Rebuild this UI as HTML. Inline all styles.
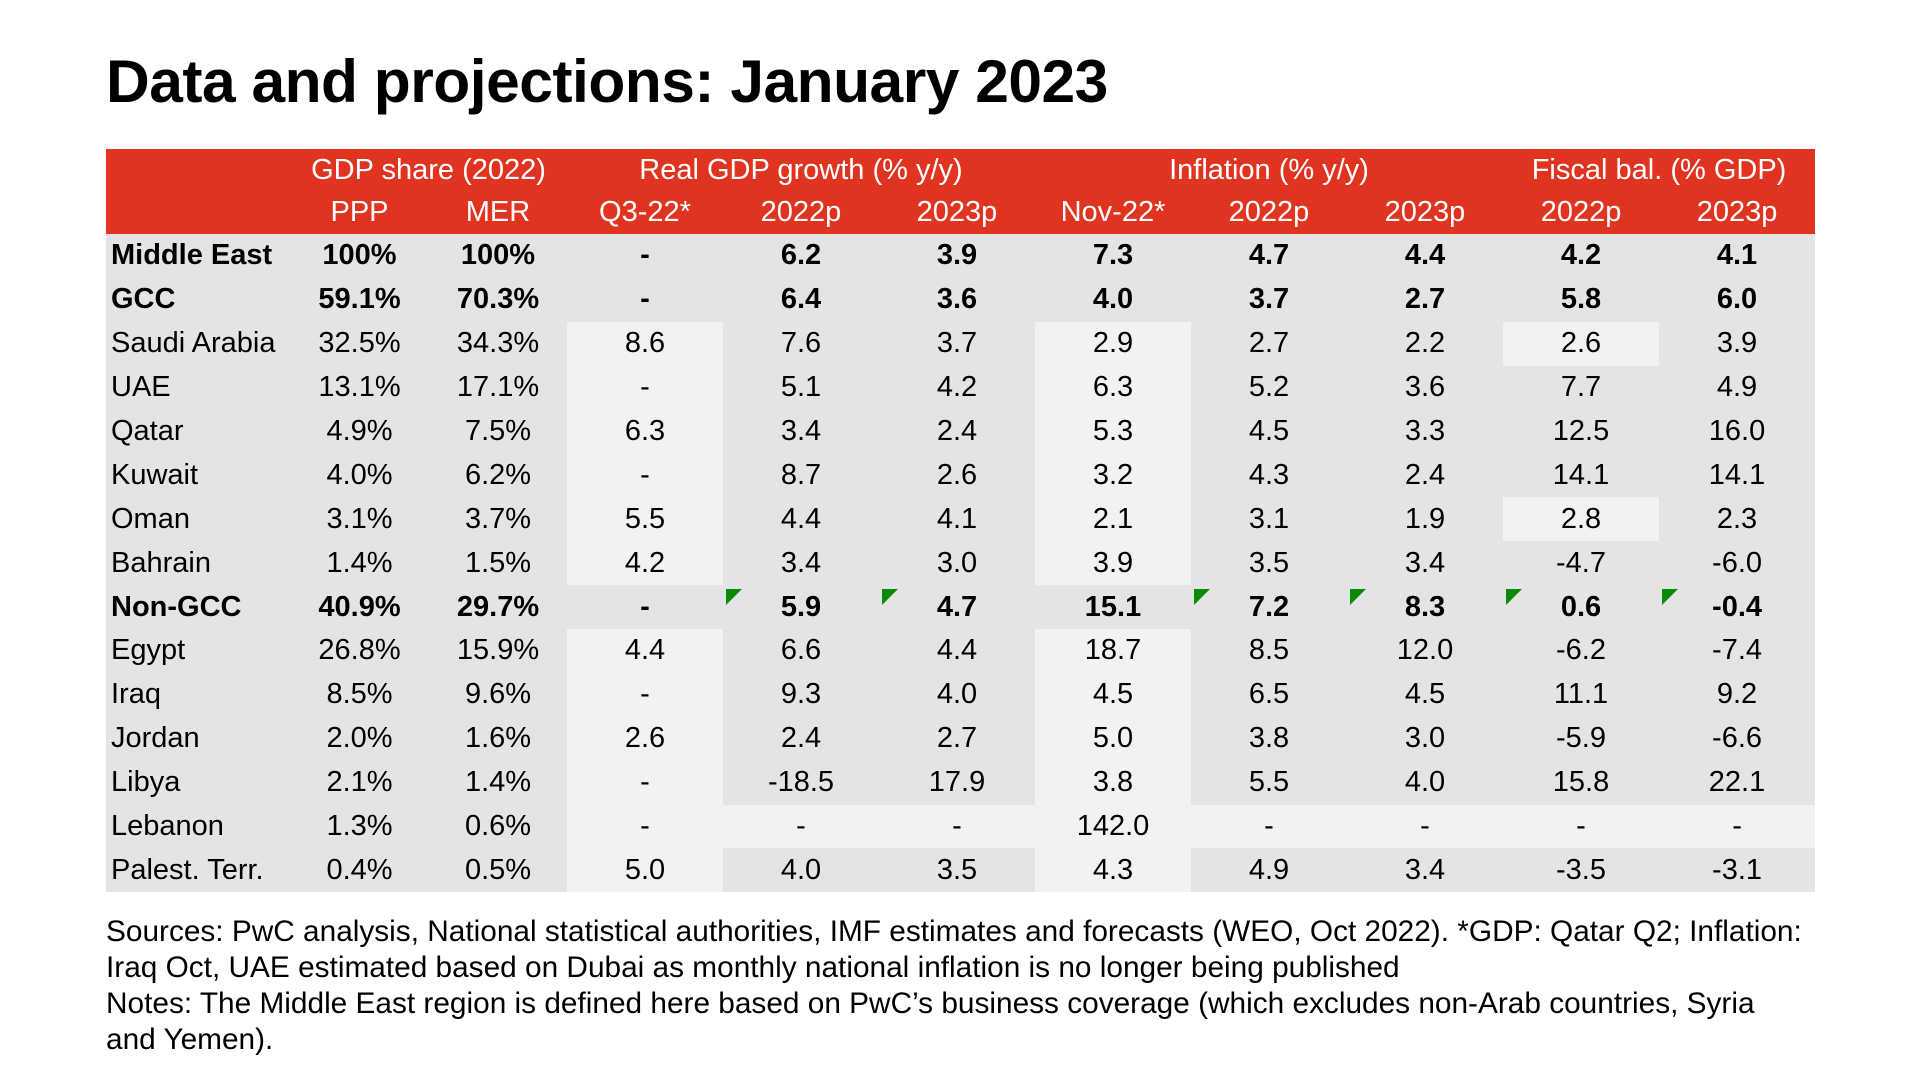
<!DOCTYPE html>
<html><head><meta charset="utf-8"><style>
body{margin:0;width:1920px;height:1080px;background:#fff;font-family:"Liberation Sans",Arial,sans-serif;position:relative;overflow:hidden;color:#000}
.title{position:absolute;left:106px;top:45px;font-size:60.5px;font-weight:bold;line-height:72px;letter-spacing:-0.5px}
table{position:absolute;left:106px;top:149px;border-collapse:collapse;table-layout:fixed;width:1709px;font-size:29px}
td{padding:0;text-align:center;white-space:nowrap;background:#e4e4e4;height:43.9px;position:relative}
thead td{background:#e03421;color:#fff;height:42.5px}
td.l{text-align:left;padding-left:5px}
tr.b td{font-weight:bold}
td.w{background:#f2f2f2}
.tri{position:absolute;left:3px;top:4px;width:0;height:0;border-top:16px solid #0a8a0a;border-right:16px solid transparent}
.notes{position:absolute;left:106px;top:914px;font-size:29.8px;line-height:36px;white-space:nowrap}
</style></head><body>
<div class="title">Data and projections: January 2023</div>
<table>
<colgroup><col style="width:184px"><col style="width:139px"><col style="width:138px"><col style="width:156px"><col style="width:156px"><col style="width:156px"><col style="width:156px"><col style="width:156px"><col style="width:156px"><col style="width:156px"><col style="width:156px"></colgroup>
<thead>
<tr><td></td><td colspan="2">GDP share (2022)</td><td colspan="3">Real GDP growth (% y/y)</td><td colspan="3">Inflation (% y/y)</td><td colspan="2">Fiscal bal. (% GDP)</td></tr>
<tr><td></td><td>PPP</td><td>MER</td><td>Q3-22*</td><td>2022p</td><td>2023p</td><td>Nov-22*</td><td>2022p</td><td>2023p</td><td>2022p</td><td>2023p</td></tr>
</thead>
<tbody>
<tr class="b"><td class="l">Middle East</td><td>100%</td><td>100%</td><td>-</td><td>6.2</td><td>3.9</td><td>7.3</td><td>4.7</td><td>4.4</td><td>4.2</td><td>4.1</td></tr>
<tr class="b"><td class="l">GCC</td><td>59.1%</td><td>70.3%</td><td>-</td><td>6.4</td><td>3.6</td><td>4.0</td><td>3.7</td><td>2.7</td><td>5.8</td><td>6.0</td></tr>
<tr><td class="l">Saudi Arabia</td><td>32.5%</td><td>34.3%</td><td class="w">8.6</td><td>7.6</td><td>3.7</td><td class="w">2.9</td><td>2.7</td><td>2.2</td><td class="w">2.6</td><td>3.9</td></tr>
<tr><td class="l">UAE</td><td>13.1%</td><td>17.1%</td><td class="w">-</td><td>5.1</td><td>4.2</td><td class="w">6.3</td><td>5.2</td><td>3.6</td><td>7.7</td><td>4.9</td></tr>
<tr><td class="l">Qatar</td><td>4.9%</td><td>7.5%</td><td class="w">6.3</td><td>3.4</td><td>2.4</td><td class="w">5.3</td><td>4.5</td><td>3.3</td><td>12.5</td><td>16.0</td></tr>
<tr><td class="l">Kuwait</td><td>4.0%</td><td>6.2%</td><td class="w">-</td><td>8.7</td><td>2.6</td><td class="w">3.2</td><td>4.3</td><td>2.4</td><td>14.1</td><td>14.1</td></tr>
<tr><td class="l">Oman</td><td>3.1%</td><td>3.7%</td><td class="w">5.5</td><td>4.4</td><td>4.1</td><td class="w">2.1</td><td>3.1</td><td>1.9</td><td class="w">2.8</td><td>2.3</td></tr>
<tr><td class="l">Bahrain</td><td>1.4%</td><td>1.5%</td><td class="w">4.2</td><td>3.4</td><td>3.0</td><td class="w">3.9</td><td>3.5</td><td>3.4</td><td>-4.7</td><td>-6.0</td></tr>
<tr class="b"><td class="l">Non-GCC</td><td>40.9%</td><td>29.7%</td><td>-</td><td><span class="tri"></span>5.9</td><td><span class="tri"></span>4.7</td><td>15.1</td><td><span class="tri"></span>7.2</td><td><span class="tri"></span>8.3</td><td><span class="tri"></span>0.6</td><td><span class="tri"></span>-0.4</td></tr>
<tr><td class="l">Egypt</td><td>26.8%</td><td>15.9%</td><td class="w">4.4</td><td>6.6</td><td>4.4</td><td class="w">18.7</td><td>8.5</td><td>12.0</td><td>-6.2</td><td>-7.4</td></tr>
<tr><td class="l">Iraq</td><td>8.5%</td><td>9.6%</td><td class="w">-</td><td>9.3</td><td>4.0</td><td class="w">4.5</td><td>6.5</td><td>4.5</td><td>11.1</td><td>9.2</td></tr>
<tr><td class="l">Jordan</td><td>2.0%</td><td>1.6%</td><td class="w">2.6</td><td>2.4</td><td>2.7</td><td class="w">5.0</td><td>3.8</td><td>3.0</td><td>-5.9</td><td>-6.6</td></tr>
<tr><td class="l">Libya</td><td>2.1%</td><td>1.4%</td><td class="w">-</td><td>-18.5</td><td>17.9</td><td class="w">3.8</td><td>5.5</td><td>4.0</td><td>15.8</td><td>22.1</td></tr>
<tr><td class="l">Lebanon</td><td>1.3%</td><td>0.6%</td><td class="w">-</td><td class="w">-</td><td class="w">-</td><td class="w">142.0</td><td class="w">-</td><td class="w">-</td><td class="w">-</td><td class="w">-</td></tr>
<tr><td class="l">Palest. Terr.</td><td>0.4%</td><td>0.5%</td><td class="w">5.0</td><td>4.0</td><td>3.5</td><td class="w">4.3</td><td>4.9</td><td>3.4</td><td>-3.5</td><td>-3.1</td></tr>
</tbody></table>
<div class="notes">Sources: PwC analysis, National statistical authorities, IMF estimates and forecasts (WEO, Oct 2022). *GDP: Qatar Q2; Inflation:<br>Iraq Oct, UAE estimated based on Dubai as monthly national inflation is no longer being published<br>Notes: The Middle East region is defined here based on PwC’s business coverage (which excludes non-Arab countries, Syria<br>and Yemen).</div>
</body></html>
